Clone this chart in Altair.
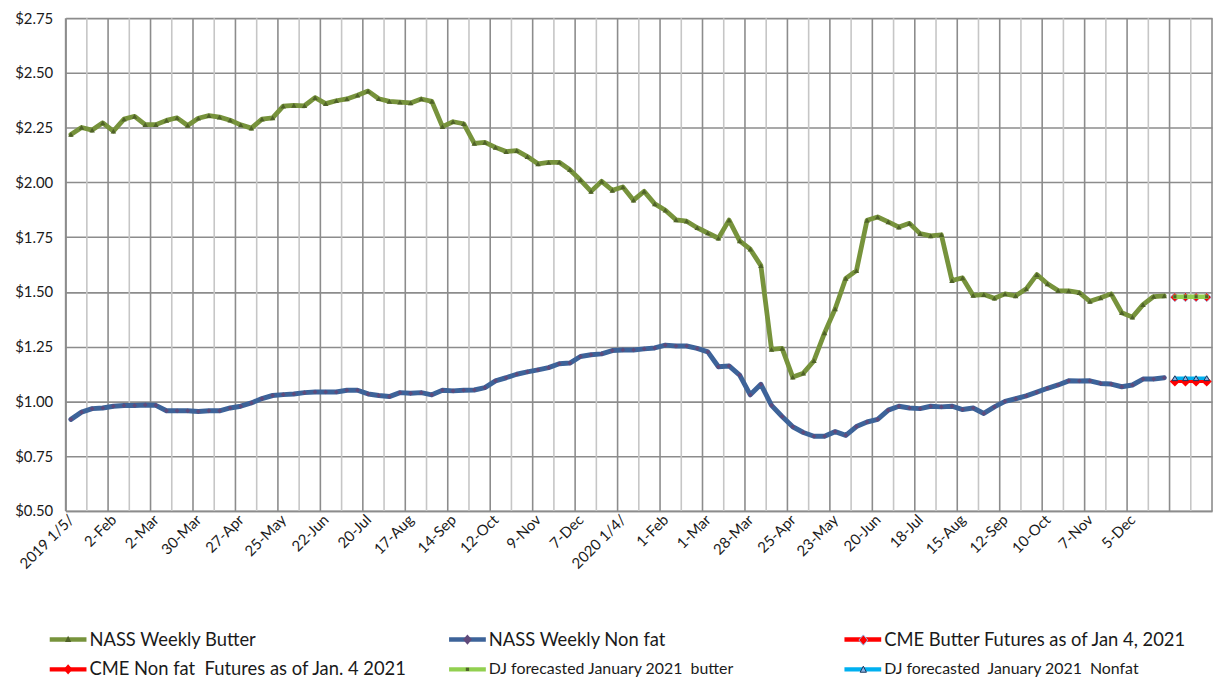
import altair as alt
import pandas as pd

# ---------------- data ----------------
week_labels = ['2019 1/5/', '2-Feb', '2-Mar', '30-Mar', '27-Apr', '25-May', '22-Jun',
               '20-Jul', '17-Aug', '14-Sep', '12-Oct', '9-Nov', '7-Dec', '2020 1/4/',
               '1-Feb', '1-Mar', '28-Mar', '25-Apr', '23-May', '20-Jun', '18-Jul',
               '15-Aug', '12-Sep', '10-Oct', '7-Nov', '5-Dec']

butter = [2.219, 2.251, 2.239, 2.272, 2.234, 2.289, 2.302, 2.264, 2.264, 2.283,
          2.295, 2.260, 2.293, 2.305, 2.298, 2.284, 2.263, 2.248, 2.289, 2.295,
          2.348, 2.352, 2.350, 2.387, 2.360, 2.373, 2.381, 2.398, 2.417, 2.382,
          2.370, 2.367, 2.363, 2.381, 2.370, 2.255, 2.277, 2.268, 2.178, 2.183,
          2.160, 2.141, 2.145, 2.118, 2.085, 2.091, 2.092, 2.058, 2.011, 1.959,
          2.005, 1.964, 1.979, 1.919, 1.959, 1.902, 1.873, 1.829, 1.823, 1.793,
          1.769, 1.745, 1.828, 1.733, 1.695, 1.620, 1.238, 1.242, 1.111, 1.129,
          1.186, 1.313, 1.423, 1.562, 1.597, 1.827, 1.842, 1.820, 1.796, 1.813,
          1.766, 1.756, 1.761, 1.552, 1.564, 1.484, 1.488, 1.471, 1.491, 1.482,
          1.514, 1.579, 1.537, 1.506, 1.505, 1.497, 1.457, 1.473, 1.491, 1.405,
          1.385, 1.442, 1.479, 1.482]

nonfat = [0.918, 0.951, 0.967, 0.970, 0.978, 0.981, 0.981, 0.984, 0.982, 0.957,
          0.957, 0.957, 0.954, 0.957, 0.957, 0.970, 0.978, 0.993, 1.013, 1.027,
          1.031, 1.034, 1.040, 1.043, 1.043, 1.043, 1.051, 1.051, 1.034, 1.027,
          1.022, 1.040, 1.037, 1.040, 1.030, 1.051, 1.048, 1.051, 1.052, 1.063,
          1.094, 1.108, 1.124, 1.135, 1.144, 1.154, 1.172, 1.175, 1.205, 1.213,
          1.217, 1.232, 1.235, 1.235, 1.240, 1.244, 1.257, 1.253, 1.253, 1.242,
          1.226, 1.158, 1.162, 1.120, 1.030, 1.078, 0.982, 0.931, 0.884, 0.858,
          0.841, 0.841, 0.862, 0.845, 0.885, 0.906, 0.918, 0.960, 0.978, 0.970,
          0.967, 0.978, 0.975, 0.978, 0.963, 0.970, 0.945, 0.975, 1.000, 1.012,
          1.025, 1.042, 1.060, 1.075, 1.094, 1.093, 1.094, 1.082, 1.079, 1.067,
          1.075, 1.102, 1.102, 1.108]

cme_butter = [1.476, 1.476, 1.476, 1.476]
cme_nonfat = [1.091, 1.091, 1.091, 1.091]
dj_butter = [1.478, 1.478, 1.478, 1.478]
dj_nonfat = [1.106, 1.106, 1.106, 1.106]

series_names = ['NASS Weekly Butter', 'NASS Weekly Non fat',
                'CME Butter Futures as of Jan 4, 2021',
                'CME Non fat  Futures as of Jan. 4 2021',
                'DJ forecasted January 2021  butter',
                'DJ forecasted  January 2021  Nonfat']
# keep the double spaces visible in SVG text
shown_names = [s.replace('  ', ' \u00a0') for s in series_names]

# ---------------- tables ----------------
n_hist = len(butter)
n_fc = len(cme_butter)
n_cat = n_hist + n_fc

hist = pd.DataFrame({'x': [i + 0.5 for i in range(n_hist)],
                     'butter': butter, 'nonfat': nonfat})
fc = pd.DataFrame({'x': [n_hist + i + 0.5 for i in range(n_fc)],
                   'cme_butter': cme_butter, 'cme_nonfat': cme_nonfat,
                   'dj_butter': dj_butter, 'dj_nonfat': dj_nonfat})
grid = pd.DataFrame({'g': list(range(0, n_cat + 1, 2))})
grid['major'] = grid['g'] % 4 == 0

FONT = 'Lato'
TXT = '#1a1a1a'
GRID_DARK = '#8c8c8c'
GRID_LIGHT = '#c6c6c6'

tick_vals = [i * 4 + 0.5 for i in range(len(week_labels))]
lab_arr = '[' + ','.join("'" + s + "'" for s in week_labels) + ']'
label_expr = lab_arr + '[round((datum.value - 0.5) / 4)]'

xs = alt.Scale(domain=[0, n_cat], nice=False, zero=False)
ys = alt.Scale(domain=[0.5, 2.75], nice=False, zero=False)

x_axis = alt.Axis(values=tick_vals, labelExpr=label_expr, labelAngle=-45,
                  labelAlign='right', labelBaseline='middle', grid=False,
                  ticks=False, domainColor=GRID_DARK, domainWidth=1.5,
                  labelFont=FONT, labelFontSize=15, labelColor=TXT,
                  labelPadding=6, labelOverlap=False, title=None)
y_axis = alt.Axis(values=[0.5 + 0.25 * k for k in range(10)], format='$.2f',
                  grid=True, gridColor=GRID_DARK, gridWidth=1.6, ticks=False,
                  domainColor=GRID_DARK, domainWidth=1.5, labelFont=FONT,
                  labelFontSize=15, labelColor=TXT, labelPadding=13, title=None)

X = lambda f: alt.X(f, scale=xs, axis=x_axis)
Y = lambda f: alt.Y(f, scale=ys, axis=y_axis)

# vertical grid lines at category boundaries
vgrid = alt.Chart(grid).mark_rule(strokeWidth=1.6).encode(
    x=X('g:Q'),
    color=alt.condition('datum.major', alt.value(GRID_DARK), alt.value(GRID_LIGHT)))


def line(df, col, color, width):
    return alt.Chart(df).mark_line(color=color, strokeWidth=width,
                                   strokeJoin='round', strokeCap='round').encode(
        x=X('x:Q'), y=Y(col + ':Q'))


def pts(df, col, shape, size, fill, stroke=None, sw=0):
    kw = dict(shape=shape, size=size, filled=True, color=fill, opacity=1)
    if stroke:
        kw.update(stroke=stroke, strokeWidth=sw)
    return alt.Chart(df).mark_point(**kw).encode(x=X('x:Q'), y=Y(col + ':Q'))


BAR = 'M-1,-0.12L1,-0.12L1,0.12L-1,0.12Z'
TRI = 'M0,-0.2L0.17,0.13L-0.17,0.13Z'
DIA = 'M0,-0.28L0.24,0L0,0.28L-0.24,0Z'
XMK = 'M-0.09,-0.09L0.09,-0.09L0.09,0.09L-0.09,0.09Z'
SYM = 37


def legend_layer(label, color, path, fs, lx, ly, stroke=None, show_label=True):
    kw = dict(orient='none', legendX=lx, legendY=ly, title=None, symbolType=path,
              symbolSize=SYM * SYM, labelFontSize=fs, labelFont=FONT,
              labelColor=TXT, labelLimit=0, labelOffset=3, padding=0,
              symbolOpacity=1, symbolFillColor=color)
    if stroke:
        kw.update(symbolStrokeColor=stroke, symbolStrokeWidth=1)
    else:
        kw.update(symbolStrokeWidth=0)
    if not show_label:
        kw.update(labelExpr="''")
    return alt.Chart(hist).transform_filter('false').mark_point(
        filled=True, opacity=1, shape=path).encode(
        color=alt.Color('s:N', scale=alt.Scale(domain=[label], range=[color]),
                        legend=alt.Legend(**kw)))


TOP = 8
C1, C2, C3 = -16, 386, 784
R1 = 641 - (8 + TOP) - SYM // 2
R2 = 671 - (8 + TOP) - SYM // 2
LF, SF = 18.5, 16

layers = [
    vgrid,
    line(hist, 'butter', '#77933C', 4.8),
    pts(hist, 'butter', 'triangle-up', 30, '#4F6228'),
    line(hist, 'nonfat', '#3D6399', 5),
    pts(hist, 'nonfat', 'diamond', 22, '#604A7B'),
    line(fc, 'cme_butter', '#FF0000', 3),
    pts(fc, 'cme_butter', 'diamond', 85, '#FF0000', '#8EB4E3', 0.8),
    line(fc, 'cme_nonfat', '#FF0000', 3),
    pts(fc, 'cme_nonfat', 'diamond', 105, '#FF0000'),
    line(fc, 'dj_butter', '#92D050', 4.5),
    pts(fc, 'dj_butter', 'square', 10, '#4F6228'),
    line(fc, 'dj_nonfat', '#00B0F0', 3.5),
    pts(fc, 'dj_nonfat', 'triangle-up', 32, '#8DB3E2', '#17375E', 1),
    # legends: bar + label, then marker overlay
    legend_layer(shown_names[0], '#77933C', BAR, LF, C1, R1),
    legend_layer(shown_names[0], '#4F6228', TRI, LF, C1, R1, show_label=False),
    legend_layer(shown_names[1], '#3D6399', BAR, LF, C2, R1),
    legend_layer(shown_names[1], '#604A7B', DIA, LF, C2, R1, show_label=False),
    legend_layer(shown_names[2], '#FF0000', BAR, LF, C3, R1),
    legend_layer(shown_names[2], '#FF0000', DIA, LF, C3, R1, stroke='#8EB4E3', show_label=False),
    legend_layer(shown_names[3], '#FF0000', BAR, LF, C1, R2),
    legend_layer(shown_names[3], '#FF0000', DIA, LF, C1, R2, show_label=False),
    legend_layer(shown_names[4], '#92D050', BAR, SF, C2, R2),
    legend_layer(shown_names[4], '#4F6228', XMK, SF, C2, R2, show_label=False),
    legend_layer(shown_names[5], '#00B0F0', BAR, SF, C3, R2),
    legend_layer(shown_names[5], '#8DB3E2', TRI, SF, C3, R2, stroke='#17375E', show_label=False),
]

PLOT_W, PLOT_H = 1154, 496
chart = alt.layer(*layers).resolve_scale(color='independent').properties(
    width=PLOT_W, height=PLOT_H,
    padding={'left': 58, 'top': TOP, 'right': 2, 'bottom': 170},
    autosize=alt.AutoSizeParams(type='none'),
    background='white',
).configure_view(stroke=None)

chart.save('out.html', embed_options={'renderer': 'svg', 'actions': False})
